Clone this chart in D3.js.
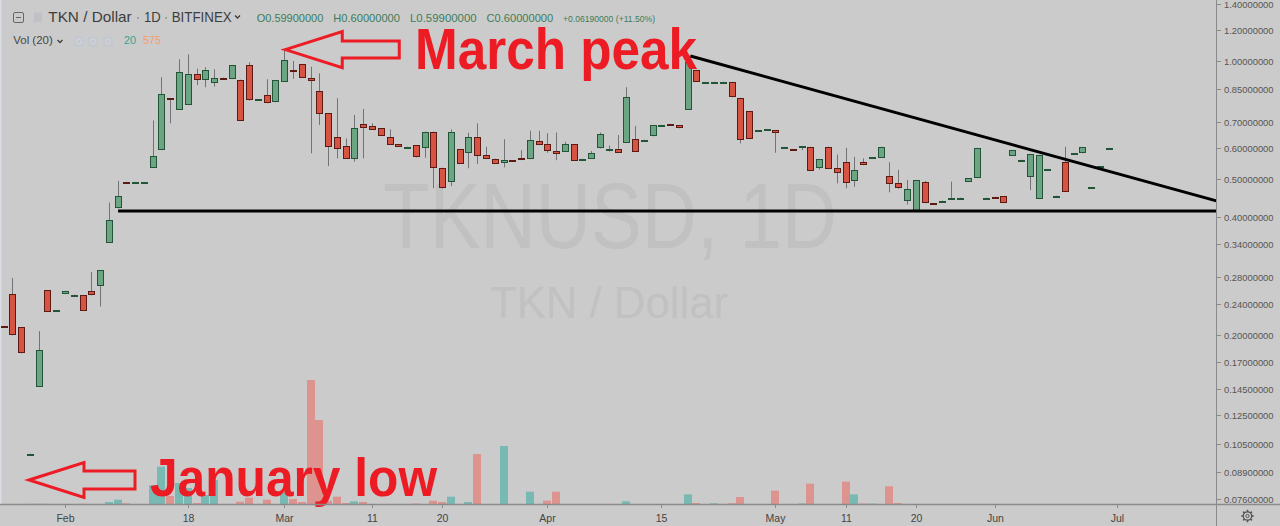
<!DOCTYPE html>
<html><head><meta charset="utf-8">
<script src="https://cdn.jsdelivr.net/npm/d3@7"></script>
<style>html,body{margin:0;padding:0;background:#cbcbcb;overflow:hidden}svg{display:block}</style>
</head><body>
<svg id="chart" width="1280" height="526"></svg>
<script>
// ---------------- data ----------------
const opens = [.210,.254,.209,.099,.147,.260,.230,.254,.252,.252,.258,.266,.343,.420,.491,.490,.490,.534,.592,.803,
.753,.772,.926,.894,.880,.907,.900,.896,.975,.798,.819,.784,.885,.946,.981,.906,.838,.735,.638,.607,
.561,.690,.684,.673,.641,.613,.603,.609,.600,.660,.534,.489,.596,.579,.638,.575,.563,.548,.557,.564,
.561,.626,.613,.590,.585,.613,.562,.562,.598,.587,.595,.618,.632,.629,.642,.686,.691,.685,.753,.948,
.885,.885,.885,.885,.806,.745,.664,.669,.665,.602,.595,.604,.604,.532,.604,.532,.551,.494,.551,.567,
.567,.509,.487,.439,.415,.491,.433,.439,.447,.447,.491,.502,.447,.450,.452,.572,.559,.506,.444,.529,
.452,.551,.581,.581,.475,.537,.599];
const highs = [.210,.279,.209,.0993,.204,.260,.231,.259,.253,.252,.289,.292,.435,.494,.491,.491,.491,.705,.909,.803,
1.010,1.040,.956,.964,.952,.907,.975,.896,.992,.799,.898,.894,1.063,1.000,.981,.967,.930,.735,.803,.634,
.728,.754,.693,.673,.669,.613,.604,.609,.660,.660,.534,.669,.596,.656,.693,.604,.563,.631,.557,.592,
.664,.663,.654,.657,.622,.613,.563,.589,.657,.608,.647,.857,.682,.630,.685,.687,.691,.685,1.030,.948,
.886,.886,.886,.885,.806,.745,.665,.670,.665,.603,.595,.605,.604,.561,.604,.577,.600,.569,.564,.568,
.604,.551,.527,.497,.497,.494,.433,.440,.492,.448,.502,.600,.448,.450,.452,.592,.560,.579,.575,.530,
.453,.604,.582,.602,.476,.5381,.600];
const lows = [.209,.199,.179,.099,.147,.229,.230,.254,.252,.230,.252,.236,.343,.420,.486,.490,.490,.534,.592,.693,
.753,.772,.868,.857,.860,.905,.900,.704,.792,.798,.780,.784,.885,.900,.905,.581,.686,.539,.564,.563,
.553,.564,.670,.643,.613,.604,.603,.567,.566,.473,.472,.479,.546,.532,.546,.562,.548,.535,.555,.558,
.561,.613,.583,.558,.585,.556,.562,.562,.598,.587,.582,.618,.587,.629,.642,.686,.684,.673,.753,.885,
.885,.885,.885,.808,.616,.633,.664,.669,.583,.602,.594,.592,.524,.528,.532,.487,.473,.477,.542,.567,
.567,.462,.472,.430,.415,.433,.432,.439,.447,.447,.491,.502,.447,.449,.435,.572,.559,.468,.444,.529,
.452,.463,.581,.581,.475,.537,.599];
const closes = [.209,.200,.179,.0993,.183,.229,.231,.259,.253,.230,.252,.292,.392,.452,.489,.491,.491,.573,.824,.800,
.939,.926,.894,.948,.905,.905,.975,.704,.792,.799,.780,.894,1.006,.943,.905,.889,.733,.603,.595,.563,
.673,.674,.670,.643,.613,.604,.604,.567,.660,.534,.476,.658,.546,.638,.570,.562,.548,.558,.555,.558,
.628,.613,.590,.578,.613,.556,.563,.582,.650,.595,.582,.811,.587,.630,.685,.687,.684,.673,.996,.885,
.886,.886,.886,.808,.631,.633,.665,.670,.652,.603,.594,.605,.524,.561,.532,.516,.487,.527,.542,.568,
.604,.487,.473,.471,.497,.433,.432,.440,.448,.448,.502,.600,.448,.449,.435,.592,.560,.579,.575,.530,
.453,.463,.582,.602,.476,.5381,.600];
const volumes = [0,0,0,20,30,20,0,0,0,20,0,0,200,430,70,0,0,1870,3730,800,
2100,1600,100,900,2400,0,0,230,630,0,430,0,1200,500,200,12400,8400,330,730,100,
270,200,0,0,0,0,0,50,0,330,200,730,0,200,5000,0,0,5800,0,0,
1230,0,330,1230,0,0,0,0,0,0,0,270,0,0,0,0,0,0,970,100,
0,70,0,70,700,0,0,0,1330,0,0,50,2030,0,0,0,2230,970,50,50,
0,1770,100,0,0,0,0,0,0,0,0,0,0,0,0,0,0,0,0,0,
0,0,0,0,0,0,0];
const priceTicks = [1.4,1.2,1.0,0.85,0.7,0.6,0.5,0.4,0.34,0.28,0.24,0.2,0.17,0.145,0.125,0.105,0.089,0.076];
const timeTickIdx = [7,21,32,42,50,62,75,88,96,104,113,127];
const timeTickLabels = ["Feb","18","Mar","11","20","Apr","15","May","11","20","Jun","Jul"];
// drawn trend lines (bar index, price)
const resistIdx = [78.3, 138.3], resistPrice = [1.030, 0.439];
const supportIdx = [13.05, 138.3], supportPrice = [0.4138, 0.4138];

// ---------------- setup ----------------
const svg = d3.select("#chart");
const W = 1280, H = 526, plotR = 1216, axisY = 504;
const BG = "#cbcbcb";
const n = opens.length;
const x = d3.scaleLinear().domain([0, n - 1]).range([3.6, 1108.7]);
const y = d3.scaleLog().domain([0.076, 1]).range([499.1, 61]);
const yVol = d3.scaleLinear().domain([0, d3.max(volumes)]).range([axisY, axisY - 124]);
const FONT = "'Liberation Sans', Arial, sans-serif";

svg.append("rect").attr("width", W).attr("height", H).attr("fill", BG);
svg.append("rect").attr("x", 0).attr("y", 0).attr("width", 1.5).attr("height", axisY).attr("fill", "#dadde3");

svg.append("defs").append("clipPath").attr("id", "plot")
  .append("rect").attr("x", 0).attr("y", 0).attr("width", plotR).attr("height", axisY);

// watermark
const wm = svg.append("g").attr("fill", "#c1c1c1").attr("font-family", FONT).attr("text-anchor", "start");
wm.append("text").attr("x", 383).attr("y", 248).attr("font-size", 92)
  .attr("textLength", 454).attr("lengthAdjust", "spacingAndGlyphs").text("TKNUSD, 1D");
wm.append("text").attr("x", 490).attr("y", 318).attr("font-size", 45)
  .attr("textLength", 238).attr("lengthAdjust", "spacingAndGlyphs").text("TKN / Dollar");

const plot = svg.append("g").attr("clip-path", "url(#plot)");
const cx = i => Math.round(x(i));
const up = i => closes[i] >= opens[i];

// volume
plot.append("g").selectAll("rect").data(d3.range(n).filter(i => volumes[i] > 0)).join("rect")
  .attr("x", i => cx(i) - 4).attr("width", 8)
  .attr("y", i => yVol(volumes[i])).attr("height", i => Math.max(1, axisY - yVol(volumes[i])))
  .attr("fill", i => up(i) ? "#79b9b3" : "#dd938e");

// wicks
plot.append("g").selectAll("line").data(d3.range(n)).join("line")
  .attr("x1", i => cx(i) + 0.5).attr("x2", i => cx(i) + 0.5)
  .attr("y1", i => y(highs[i])).attr("y2", i => y(lows[i]))
  .attr("stroke", "#737375").attr("stroke-width", 1);

// bodies
plot.append("g").selectAll("rect").data(d3.range(n)).join("rect")
  .attr("x", i => cx(i) - 3 + 0.5).attr("width", 6)
  .attr("y", i => Math.round(y(Math.max(opens[i], closes[i]))) + 0.5)
  .attr("height", i => Math.max(1, Math.round(y(Math.min(opens[i], closes[i])) - y(Math.max(opens[i], closes[i]))) - 1))
  .attr("fill", i => up(i) ? "#6ba583" : "#d75442")
  .attr("stroke", i => up(i) ? "#225437" : "#5b1a13").attr("stroke-width", 1);

// trend lines
const lineGen = d3.line().x(d => x(d[0])).y(d => y(d[1]));
plot.append("path").attr("d", lineGen(d3.zip(resistIdx, resistPrice)))
  .attr("stroke", "#000").attr("stroke-width", 3).attr("fill", "none");
plot.append("path").attr("d", lineGen(d3.zip(supportIdx, supportPrice)))
  .attr("stroke", "#000").attr("stroke-width", 3).attr("fill", "none");

// annotations
const RED = "#ed1c24";
function arrow(tx, ty, headLen, headHalf, shaftHalf, shaftEnd) {
  const p = [[tx, ty], [tx + headLen, ty - headHalf], [tx + headLen, ty - shaftHalf], [tx + shaftEnd, ty - shaftHalf],
    [tx + shaftEnd, ty + shaftHalf], [tx + headLen, ty + shaftHalf], [tx + headLen, ty + headHalf]];
  svg.append("path").attr("d", "M" + p.map(q => q.join(",")).join("L") + "Z")
    .attr("fill", "none").attr("stroke", RED).attr("stroke-width", 3).attr("stroke-linejoin", "miter");
}
const peakI = 32;
arrow(x(peakI) + 1, y(highs[peakI]) - 1, 57, 18, 8.5, 114);
arrow(29, 480, 55, 17.5, 9, 106);
svg.append("text").attr("x", 415).attr("y", 69).attr("font-family", FONT).attr("font-weight", "bold")
  .attr("font-size", 58).attr("fill", RED).attr("textLength", 282).attr("lengthAdjust", "spacingAndGlyphs").text("March peak");
svg.append("text").attr("x", 150).attr("y", 496).attr("font-family", FONT).attr("font-weight", "bold")
  .attr("font-size", 54).attr("fill", RED).attr("textLength", 287).attr("lengthAdjust", "spacingAndGlyphs").text("January low");

// price axis
svg.append("line").attr("x1", plotR + 0.5).attr("x2", plotR + 0.5).attr("y1", 0).attr("y2", H).attr("stroke", "#8a8a8a");
const pa = svg.append("g").selectAll("g").data(priceTicks).join("g")
  .attr("transform", d => `translate(0,${Math.round(y(d)) + 0.5})`);
pa.append("line").attr("x1", plotR).attr("x2", plotR + 5).attr("stroke", "#8a8a8a");
pa.append("text").attr("x", 1224).attr("dy", "0.35em").attr("font-family", FONT).attr("font-size", 9.4)
  .attr("fill", "#555").text(d => d3.format(".8f")(d));

// time axis
svg.append("line").attr("x1", 0).attr("x2", W).attr("y1", axisY + 0.5).attr("y2", axisY + 0.5).attr("stroke", "#8a8a8a").attr("stroke-width", 1.5);
const ta = svg.append("g").selectAll("g").data(timeTickIdx).join("g")
  .attr("transform", d => `translate(${Math.round(x(d)) + 0.5},0)`);
ta.append("line").attr("y1", axisY).attr("y2", axisY + 4).attr("stroke", "#8a8a8a");
ta.append("text").attr("y", 522).attr("text-anchor", "middle").attr("font-family", FONT).attr("font-size", 10.5)
  .attr("fill", "#444").text((d, i) => timeTickLabels[i]);

// gear icon
const gear = svg.append("g").attr("transform", "translate(1247.5,516)").attr("stroke", "#555").attr("fill", "none");
gear.append("circle").attr("r", 4.2).attr("stroke-width", 1.3);
gear.append("circle").attr("r", 1.6).attr("stroke-width", 1);
d3.range(8).forEach(k => {
  const a = k * Math.PI / 4;
  gear.append("line").attr("x1", Math.cos(a) * 4.2).attr("y1", Math.sin(a) * 4.2)
    .attr("x2", Math.cos(a) * 6.2).attr("y2", Math.sin(a) * 6.2).attr("stroke-width", 1.6);
});

// header
const hd = svg.append("g").attr("font-family", FONT);
hd.append("rect").attr("x", 13.5).attr("y", 12.5).attr("width", 10).attr("height", 10).attr("rx", 1.5)
  .attr("fill", "none").attr("stroke", "#666");
hd.append("line").attr("x1", 16).attr("x2", 21).attr("y1", 17.5).attr("y2", 17.5).attr("stroke", "#666");
hd.append("path").attr("d", "M34,12.5h8v11l-4,-2.5l-4,2.5z").attr("fill", "#bfc1c6");
function ht(s, x0, w, yy, fill, fs) {
  hd.append("text").attr("x", x0).attr("y", yy).attr("font-size", fs).attr("fill", fill)
    .attr("textLength", w).attr("lengthAdjust", "spacingAndGlyphs").text(s);
}
ht("TKN / Dollar", 48.3, 83.4, 22, "#3e3e3e", 14.5);
ht("1D", 144, 16.7, 22, "#3e3e3e", 14.5);
ht("BITFINEX", 171.7, 60, 22, "#3e3e3e", 14);
hd.append("circle").attr("cx", 138).attr("cy", 18).attr("r", 1.1).attr("fill", "#999");
hd.append("circle").attr("cx", 166).attr("cy", 18).attr("r", 1.1).attr("fill", "#999");
hd.append("path").attr("d", "M235,15.5l2.5,2.5l2.5,-2.5").attr("stroke", "#3e3e3e").attr("stroke-width", 1.4).attr("fill", "none");
const GRN = "#3c7d58";
ht("O0.59900000", 256.7, 66.6, 22, GRN, 11);
ht("H0.60000000", 333.3, 66.6, 22, GRN, 11);
ht("L0.59900000", 410, 66.6, 22, GRN, 11);
ht("C0.60000000", 486.6, 66.6, 22, GRN, 11);
ht("+0.06190000 (+11.50%)", 563, 92, 22, GRN, 8.5);
ht("Vol (20)", 13.3, 39.4, 44.3, "#444", 11.5);
hd.append("path").attr("d", "M57.5,40l2.5,2.5l2.5,-2.5").attr("stroke", "#3e3e3e").attr("stroke-width", 1.3).attr("fill", "none");
[74, 88, 103].forEach(xx => {
  hd.append("rect").attr("x", xx).attr("y", 36.5).attr("width", 10).attr("height", 10).attr("rx", 1)
    .attr("fill", "#c4c8d0");
  hd.append("circle").attr("cx", xx + 5).attr("cy", 41.5).attr("r", 2.5).attr("fill", "none").attr("stroke", "#d4d7dd");
});
ht("20", 124, 12, 44.3, "#2fa394", 11.5);
ht("575", 143, 18, 44.3, "#f2a064", 11.5);
</script>
</body></html>
